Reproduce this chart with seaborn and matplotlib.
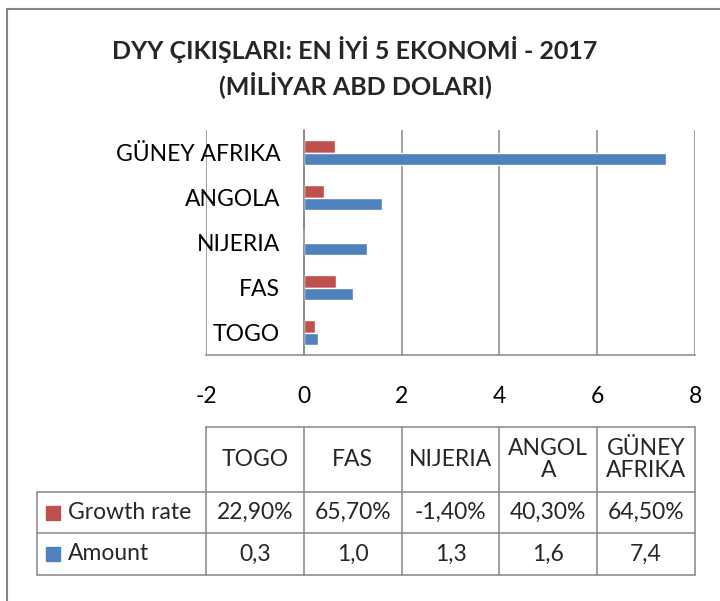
import matplotlib
matplotlib.use("Agg")
import matplotlib.pyplot as plt
from matplotlib.patches import Rectangle
from matplotlib.lines import Line2D
import numpy as np
import pandas as pd
import seaborn as sns

# data
countries = ["TOGO", "FAS", "NIJERIA", "ANGOLA", "GÜNEY AFRIKA"]
header_labels = ["TOGO", "FAS", "NIJERIA", "ANGOL\nA", "GÜNEY\nAFRIKA"]
growth_rate = [0.229, 0.657, -0.014, 0.403, 0.645]
amount = [0.3, 1.0, 1.3, 1.6, 7.4]
series_names = ["Growth rate", "Amount"]
colors = ["#C0504D", "#4F81BD"]
x_ticks = [-2, 0, 2, 4, 6, 8]

title = "DYY ÇIKIŞLARI: EN İYİ 5 EKONOMİ - 2017\n(MİLİYAR ABD DOLARI)"

sns.set_style("white")
plt.rcParams['font.family'] = ['Lato', 'DejaVu Sans']
plt.rcParams['axes.unicode_minus'] = False
grid_col = "#868686"
fs = 16.5

df = pd.DataFrame({
    "country": countries * 2,
    "series": [series_names[0]] * len(countries) + [series_names[1]] * len(countries),
    "value": growth_rate + amount,
})

fig = plt.figure(figsize=(7.2, 6.01), dpi=100)
ax = fig.add_axes([206 / 720, 246 / 601, 489 / 720, 225 / 601])

sns.barplot(data=df, y="country", x="value", hue="series", order=countries[::-1],
            hue_order=series_names, palette=colors, saturation=1, width=0.55,
            orient="h", legend=False, ax=ax)

ax.set_xlim(x_ticks[0], x_ticks[-1])
ax.set_xticks(x_ticks)
ax.set_xlabel("")
ax.set_ylabel("")
ax.grid(axis="x", color=grid_col, linewidth=1.1)
ax.set_axisbelow(True)
for s in ["top", "right"]:
    ax.spines[s].set_visible(False)
ax.spines["left"].set_position(("data", 0))
ax.spines["left"].set_color(grid_col)
ax.spines["left"].set_linewidth(1.1)
ax.spines["bottom"].set_color(grid_col)
ax.spines["bottom"].set_linewidth(1.1)
ax.tick_params(axis="both", length=0, labelsize=fs, colors="black")
ax.tick_params(axis="x", pad=22)
ax.tick_params(axis="y", pad=17)

fig.text(355 / 720, 1 - 67 / 601, title, ha="center", va="center", fontsize=18,
         fontweight="bold", linespacing=1.35)

# outer chart border (only left and top visible)
fig.patches.append(Rectangle((7 / 720, -0.1), 1.2, 1.1 - 9 / 601, transform=fig.transFigure,
                             fill=False, edgecolor=grid_col, linewidth=1.5))

# data table under the axis
def fx(x):
    return fig.transFigure.inverted().transform(ax.transData.transform((x, 0)))[0]

edges = [fx(x) for x in np.linspace(x_ticks[0], x_ticks[-1], len(countries) + 1)]
y_rows = [1 - 427 / 601, 1 - 492 / 601, 1 - 533 / 601, 1 - 575 / 601]
left = 37 / 720
tl = dict(color=grid_col, linewidth=1.1, transform=fig.transFigure)

fig.add_artist(Line2D([edges[0], edges[-1]], [y_rows[0]] * 2, **tl))
for yy in y_rows[1:]:
    fig.add_artist(Line2D([left, edges[-1]], [yy] * 2, **tl))
for e in edges:
    fig.add_artist(Line2D([e, e], [y_rows[0], y_rows[-1]], **tl))
fig.add_artist(Line2D([left, left], [y_rows[1], y_rows[-1]], **tl))

growth_txt = [f"{v * 100:.2f}%".replace(".", ",") for v in growth_rate]
amount_txt = [f"{v:.1f}".replace(".", ",") for v in amount]
for i in range(len(countries)):
    cx = (edges[i] + edges[i + 1]) / 2
    fig.text(cx, (y_rows[0] + y_rows[1]) / 2, header_labels[i], ha="center", va="center",
             fontsize=fs, linespacing=1.1)
    fig.text(cx, (y_rows[1] + y_rows[2]) / 2, growth_txt[i], ha="center", va="center", fontsize=fs)
    fig.text(cx, (y_rows[2] + y_rows[3]) / 2, amount_txt[i], ha="center", va="center", fontsize=fs)

for r, name in enumerate(series_names):
    cy = (y_rows[r + 1] + y_rows[r + 2]) / 2
    fig.patches.append(Rectangle((46 / 720, cy - 7 / 601), 14 / 720, 14 / 601,
                                 transform=fig.transFigure, color=colors[r]))
    fig.text(68 / 720, cy, name, ha="left", va="center", fontsize=fs)

fig.savefig("out.png", dpi=100)
